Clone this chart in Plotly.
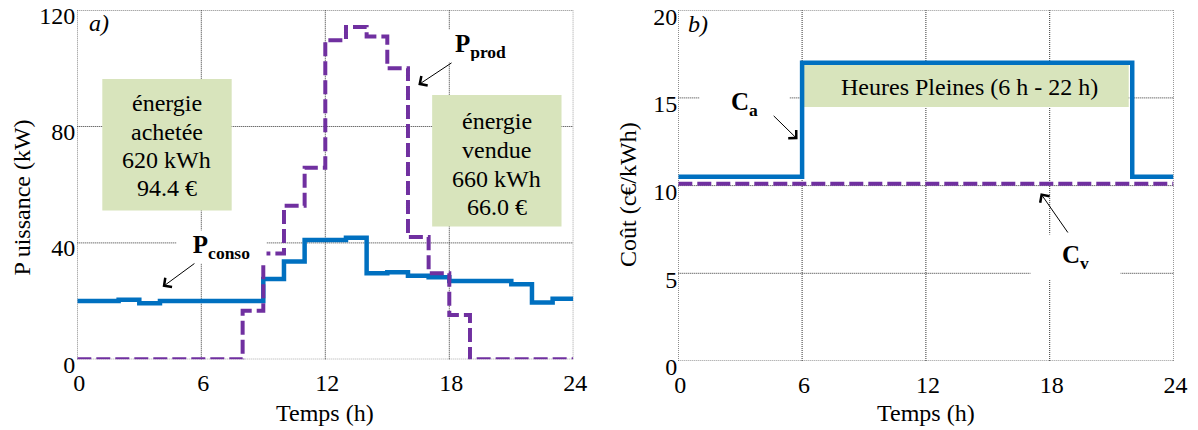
import plotly.graph_objects as go

# ---------------- data ----------------
hours = [0, 1, 2, 3, 4, 5, 6, 7, 8, 9, 10, 11, 12, 13, 14, 15, 16, 17, 18, 19, 20, 21, 22, 23, 24]
p_conso = [20, 20, 20.5, 19.3, 20, 20, 20, 20, 20, 27.6, 33.6, 41, 41, 41.8,
           29.6, 29.9, 28.7, 28.2, 26.9, 26.9, 26.9, 25.8, 19.5, 20.8]
p_prod = [0, 0, 0, 0, 0, 0, 0, 0, 16.7, 36.4, 52.8, 65.8, 109.6, 114.2,
          110.9, 100.0, 42.0, 29.6, 15.2, 0, 0, 0, 0, 0]
cost_hours = [0, 6, 22, 24]
c_achat = [10.5, 17.0, 10.5]
c_vente = [10.1, 10.1, 10.1]

x_ticks = [0, 6, 12, 18, 24]
y1_ticks = [0, 40, 80, 120]
y2_ticks = [0, 5, 10, 15, 20]

box_achat_lines = ["énergie", "achetée", "620 kWh", "94.4 €"]
box_vente_lines = ["énergie", "vendue", "660 kWh", "66.0 €"]
hp_text = "Heures Pleines (6 h - 22 h)"

BLUE = "#0070C0"
PURPLE = "#7030A0"
GREEN = "#D8E4BC"
GRID = "#333333"
FONT = "Liberation Serif"
W, H = 1198, 430


def px(x):
    return x / W


def py(y):
    return 1 - y / H


fig = go.Figure()
fig.add_trace(go.Scatter(x=hours, y=p_conso + [p_conso[-1]], mode="lines",
                         line=dict(color=BLUE, width=4.5, shape="hv"),
                         xaxis="x", yaxis="y"))
fig.add_trace(go.Scatter(x=hours, y=p_prod + [p_prod[-1]], mode="lines",
                         line=dict(color=PURPLE, width=4, shape="hv", dash="14px,5px"),
                         xaxis="x", yaxis="y"))
fig.add_trace(go.Scatter(x=cost_hours, y=c_achat + [c_achat[-1]], mode="lines",
                         line=dict(color=BLUE, width=4.5, shape="hv"),
                         xaxis="x2", yaxis="y2"))
fig.add_trace(go.Scatter(x=cost_hours, y=c_vente + [c_vente[-1]], mode="lines",
                         line=dict(color=PURPLE, width=4, shape="hv", dash="14px,5px"),
                         xaxis="x2", yaxis="y2"))

axis_common = dict(showgrid=False, zeroline=False, showline=False, ticks="",
                   ticklabeloverflow="allow", automargin=False,
                   tickfont=dict(family=FONT, size=24, color="black"))

fig.update_layout(
    width=W, height=H, margin=dict(l=0, r=0, t=0, b=0, pad=0), showlegend=False,
    plot_bgcolor="white", paper_bgcolor="white",
    font=dict(family=FONT, size=24, color="black"),
    xaxis=dict(domain=[px(77.3), px(573.3)], range=[0, 24], tickvals=x_ticks,
               anchor="y", ticklabelstandoff=7, ticklabelshift=2, **axis_common),
    yaxis=dict(domain=[py(359.3), py(10.1)], range=[0, 120], tickvals=y1_ticks,
               anchor="x", ticklabelstandoff=1, ticklabelshift=5, **axis_common),
    xaxis2=dict(domain=[px(678.3), px(1173.5)], range=[0, 24], tickvals=x_ticks,
                anchor="y2", ticklabelstandoff=7, ticklabelshift=2, **axis_common),
    yaxis2=dict(domain=[py(361), py(10.2)], range=[0, 20], tickvals=y2_ticks,
                anchor="x2", ticklabelstandoff=0, ticklabelshift=6, **axis_common),
)

GRID_LINE = dict(color=GRID, width=1, dash="1px,1px")
shapes = []
# dotted grid + frame, drawn as shapes below everything else
for xr, yr, yt in (("x", "y", y1_ticks), ("x2", "y2", y2_ticks)):
    for xv in x_ticks:
        shapes.append(dict(type="line", xref=xr, yref=yr + " domain", x0=xv, x1=xv,
                           y0=0, y1=1, line=GRID_LINE, layer="below"))
    for yv in yt:
        shapes.append(dict(type="line", xref=xr + " domain", yref=yr, x0=0, x1=1,
                           y0=yv, y1=yv, line=GRID_LINE, layer="below"))
# green boxes
shapes.append(dict(type="rect", xref="x", yref="y", x0=1.21, x1=7.47, y0=51.1, y1=96.3,
                   fillcolor=GREEN, line=dict(width=0), layer="below"))
shapes.append(dict(type="rect", xref="x", yref="y", x0=17.17, x1=23.43, y0=45.6, y1=90.8,
                   fillcolor=GREEN, line=dict(width=0), layer="below"))
shapes.append(dict(type="rect", xref="x2", yref="y2", x0=6.0, x1=21.83, y0=14.48, y1=17.0,
                   fillcolor=GREEN, line=dict(width=0), layer="below"))
fig.update_layout(shapes=shapes)

C = dict(xanchor="center", yanchor="middle", showarrow=False)
ann = []
# box texts
for txt, yv in zip(box_achat_lines, [88.1, 78.2, 68.5, 58.8]):
    ann.append(dict(xref="x", yref="y", x=4.34, y=yv, text=txt, font=dict(size=24), **C))
for txt, yv in zip(box_vente_lines, [82.0, 71.9, 61.96, 52.4]):
    ann.append(dict(xref="x", yref="y", x=20.3, y=yv, text=txt, font=dict(size=24), **C))
ann.append(dict(xref="x2", yref="y2", x=14.1, y=15.65, text=hp_text, font=dict(size=24), **C))

# panel letters
ann.append(dict(xref="x", yref="y", x=1.03, y=115.5, text="<i>a)</i>", font=dict(size=24), **C))
ann.append(dict(xref="x2", yref="y2", x=0.95, y=19.2, text="<i>b)</i>", font=dict(size=24), **C))

# labels with white background
ann.append(dict(xref="x", yref="y", x=19.5, y=107.6, text="<b>P<sub>prod</sub></b>",
                bgcolor="white", width=87, height=30, font=dict(size=25), **C))
ann.append(dict(xref="x", yref="y", x=7.0, y=38.6, text="<b>P<sub>conso</sub></b>",
                bgcolor="white", width=87, height=30, font=dict(size=25), **C))
ann.append(dict(xref="x2", yref="y2", x=3.23, y=14.65, text="<b>C<sub>a</sub></b>",
                bgcolor="white", width=87, height=34, font=dict(size=25), **C))
ann.append(dict(xref="x2", yref="y2", x=19.26, y=5.95, text="<b>C<sub>v</sub></b>",
                bgcolor="white", width=87, height=42, font=dict(size=25), **C))

# arrows
arrows = [
    ("x", "y", 16.5, 94.3, 18.18, 102.2),
    ("x", "y", 4.13, 24.9, 5.74, 33.3),
    ("x2", "y2", 5.78, 12.64, 4.55, 14.06),
    ("x2", "y2", 17.56, 9.56, 18.93, 7.24),
]
for xr, yr, hx, hy, tx, ty in arrows:
    ann.append(dict(xref=xr, yref=yr, x=hx, y=hy, axref=xr, ayref=yr, ax=tx, ay=ty,
                    text="", showarrow=True, arrowhead=4, arrowsize=2.2, arrowwidth=1,
                    arrowcolor="black", standoff=0, startstandoff=0))

# axis titles
ann.append(dict(xref="paper", yref="paper", x=px(22), y=py(197.5), text="P\u2009uissance (kW)",
                textangle=-90, font=dict(size=24), **C))
ann.append(dict(xref="paper", yref="paper", x=px(628), y=py(195), text="Coût (c€/kWh)",
                textangle=-90, font=dict(size=24), **C))
ann.append(dict(xref="paper", yref="paper", x=px(325.3), y=py(413), text="Temps (h)",
                font=dict(size=24), **C))
ann.append(dict(xref="paper", yref="paper", x=px(926), y=py(413), text="Temps (h)",
                font=dict(size=24), **C))

fig.update_layout(annotations=ann)
fig.write_html("out.html", config={"displayModeBar": False},
               post_script="document.body.style.margin='0px';document.body.style.overflow='hidden';")
